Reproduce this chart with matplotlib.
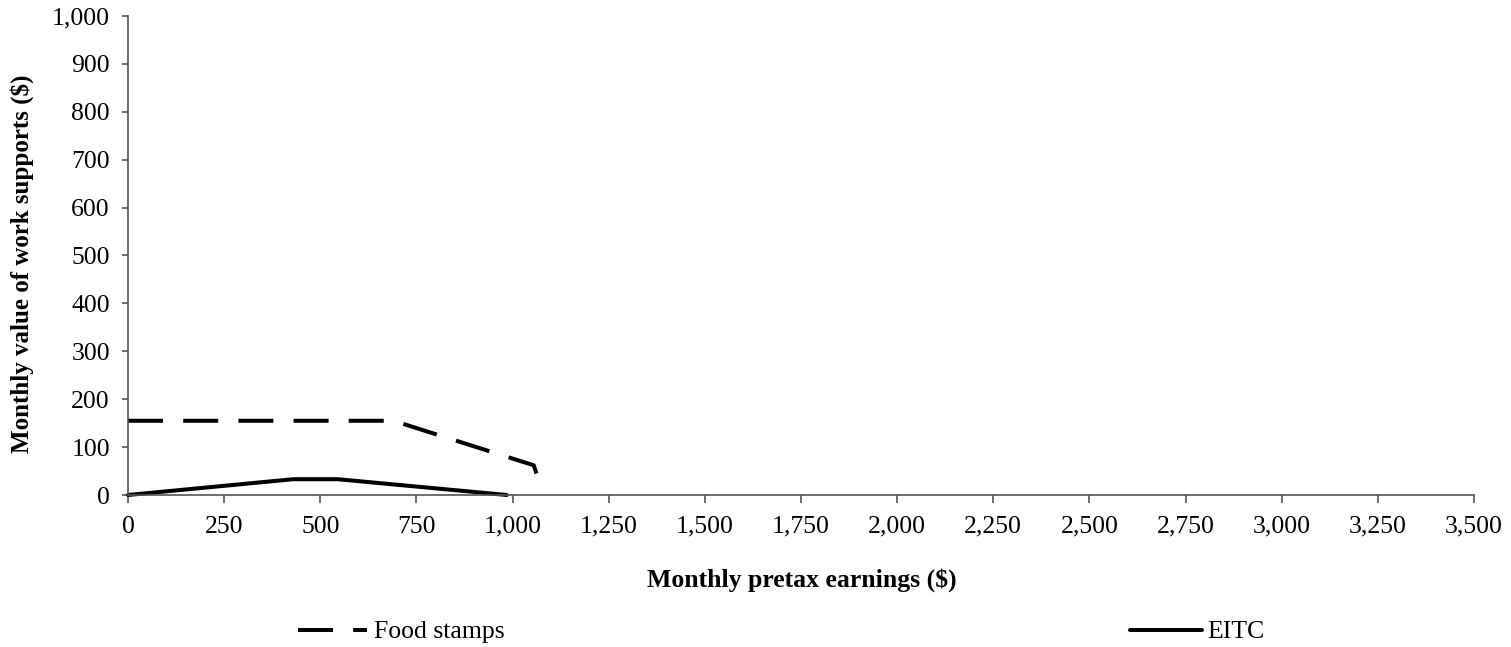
import matplotlib
matplotlib.use("Agg")
import matplotlib.pyplot as plt
from matplotlib.lines import Line2D
from matplotlib.ticker import FuncFormatter, MultipleLocator

plt.rcParams['font.family'] = ['Liberation Serif', 'DejaVu Serif']

# Data
food_x = [0, 690, 1055, 1065]
food_y = [155, 155, 62, 38]
eitc_x = [0, 430, 545, 985]
eitc_y = [0, 33, 33, 0]
series_names = ["Food stamps", "EITC"]
x_label = "Monthly pretax earnings ($)"
y_label = "Monthly value of work supports ($)"

FS = 18.5
fig = plt.figure(figsize=(15.11, 6.47), dpi=100)
ax = fig.add_axes([128/1511, 1 - 495/647, (1474-128)/1511, (495-16)/647])

lw = 2.9
food_line, = ax.plot(food_x, food_y, color='black', lw=lw, dashes=(8.7, 5.0),
                     solid_capstyle='butt', dash_capstyle='butt', clip_on=False)
eitc_line, = ax.plot(eitc_x, eitc_y, color='black', lw=lw, solid_capstyle='round', clip_on=False)

ax.set_xlim(0, 3500)
ax.set_ylim(0, 1000)
ax.xaxis.set_major_locator(MultipleLocator(250))
ax.yaxis.set_major_locator(MultipleLocator(100))
fmt = FuncFormatter(lambda v, p: f"{int(round(v)):,}")
ax.xaxis.set_major_formatter(fmt)
ax.yaxis.set_major_formatter(fmt)

for s in ['top', 'right']:
    ax.spines[s].set_visible(False)
for s in ['left', 'bottom']:
    ax.spines[s].set_color('#555555')
    ax.spines[s].set_linewidth(1.2)

ax.tick_params(axis='x', direction='out', length=6, width=1.2, color='#555555',
               labelsize=FS, pad=9)
ax.tick_params(axis='y', direction='out', length=4, width=1.2, color='#555555',
               labelsize=FS, pad=9)

fig.text(802/1511, 1 - 580/647, x_label, ha='center', va='center',
         fontsize=FS, fontweight='bold')
fig.text(22/1511, 1 - 264/647, y_label, ha='center', va='center',
         fontsize=18, fontweight='bold', rotation=90)

leg1 = fig.legend([Line2D([], [], color='black', lw=lw, dashes=(8.7, 5.0), dash_capstyle='butt')],
                  [series_names[0]], loc='center left',
                  bbox_to_anchor=(298/1511, 1 - 632/647), frameon=False,
                  fontsize=FS, borderpad=0, borderaxespad=0,
                  handlelength=2.7, handletextpad=0.25)
leg2 = fig.legend([Line2D([], [], color='black', lw=lw, solid_capstyle='round')],
                  [series_names[1]], loc='center left',
                  bbox_to_anchor=(1130/1511, 1 - 632/647), frameon=False,
                  fontsize=FS, borderpad=0, borderaxespad=0,
                  handlelength=2.8, handletextpad=0.2)

fig.savefig("out.png", dpi=100)
